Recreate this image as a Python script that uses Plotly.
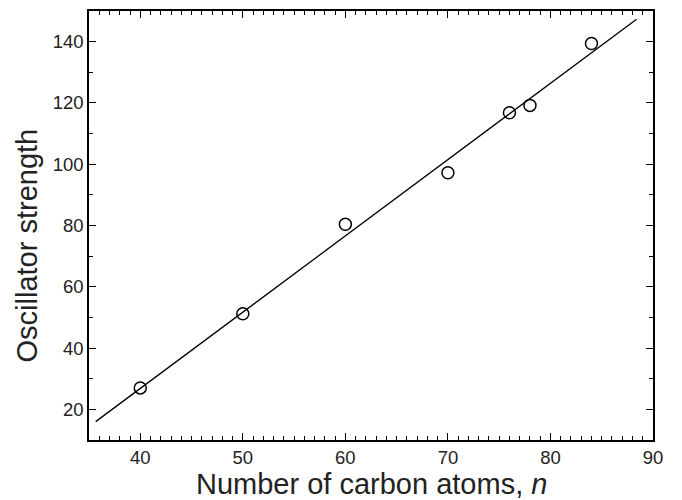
import plotly.graph_objects as go

# Data
n_atoms = [40, 50, 60, 70, 76, 78, 84]
osc_strength = [27.0, 51.2, 80.4, 97.2, 116.8, 119.2, 139.4]

# Linear fit line endpoints
fit_x = [35.65, 88.4]
fit_y = [16.0, 147.3]

x_ticks = [40, 50, 60, 70, 80, 90]
y_ticks = [20, 40, 60, 80, 100, 120, 140]

FONT = "Arial, 'Liberation Sans', sans-serif"
TXT = "#222"

fig = go.Figure()
fig.add_trace(go.Scatter(x=fit_x, y=fit_y, mode="lines",
                         line=dict(color="black", width=1.3), showlegend=False))
fig.add_trace(go.Scatter(x=n_atoms, y=osc_strength, mode="markers",
                         marker=dict(symbol="circle-open", size=12, color="black",
                                     line=dict(width=1.5, color="black")),
                         showlegend=False))

axis_common = dict(showgrid=False, zeroline=False, showline=True, linecolor="black",
                   linewidth=1.5, mirror="allticks", ticks="inside", ticklen=7,
                   tickwidth=1.2, tickcolor="black", automargin=False,
                   tickfont=dict(family=FONT, size=18.5, color=TXT))

fig.update_xaxes(range=[35, 90], tickvals=x_ticks,
                 minor=dict(ticks="inside", ticklen=4, dtick=1, tick0=0,
                            tickcolor="black", tickwidth=1.2),
                 **axis_common)
fig.update_yaxes(range=[10, 150], tickvals=y_ticks,
                 minor=dict(ticks="inside", ticklen=4, dtick=10, tick0=0,
                            tickcolor="black", tickwidth=1.2),
                 **axis_common)

fig.add_annotation(text="Number of carbon atoms, <i>n</i>", xref="paper", yref="paper",
                   x=0.5, y=0, yshift=-44, xanchor="center", yanchor="middle",
                   showarrow=False, font=dict(family=FONT, size=29, color=TXT))
fig.add_annotation(text="Oscillator strength", xref="paper", yref="paper",
                   x=0, y=0.5, xshift=-63, yshift=-20, xanchor="center", yanchor="middle",
                   textangle=-90, showarrow=False,
                   font=dict(family=FONT, size=29, color=TXT))

# page body has an 8px default margin, so the figure is sized to fit the window
fig.update_layout(width=674, height=492, plot_bgcolor="white", paper_bgcolor="white",
                  margin=dict(l=81, r=29, t=3, b=60))

fig.write_html("out.html")
